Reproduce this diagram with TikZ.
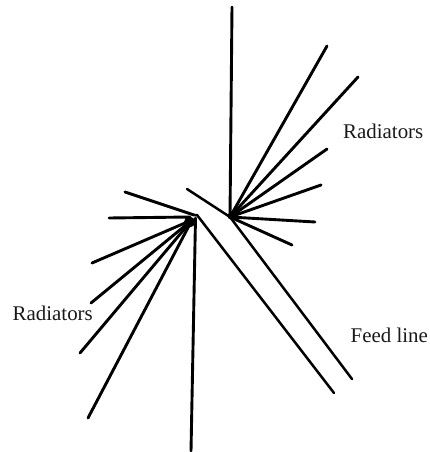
\documentclass[tikz,border=0pt]{standalone}
\usepackage{fontspec}
\setmainfont{Liberation Serif}
\tikzset{
  rad/.style={line width=2.9pt,line cap=round},
  feed/.style={line width=2.5pt,line cap=round,line join=miter},
  lab/.style={inner sep=0pt,anchor=base west,font=\fontsize{20.9}{24}\selectfont,text=black!90}
}
\begin{document}
\begin{tikzpicture}[x=1pt,y=-1pt]
\useasboundingbox (0,0) rectangle (430,452);
\coordinate (hu) at (230,217);
\coordinate (hl) at (192,220);
\coordinate (hv) at (195.5,218);
\coordinate (hp) at (194,215);
\foreach \n/\x/\y in {a/232/7,b/327/46,c/358/77,d/327/149,e/321/185,f/315/222,g/292/245}
  {\coordinate (\n) at (\x,\y); \draw[rad] (hu) -- (\n);}
\foreach \n/\x/\y in {r/92/263,s/91/303,t/80/353,u/88/418}
  {\coordinate (\n) at (\x,\y); \draw[rad] (hl) -- (\n);}
\coordinate (p) at (125,192);
\coordinate (q) at (109,218);
\coordinate (v) at (191,451);
\draw[rad] (hp) -- (p);
\draw[rad] (hp) ++(-4,2) -- (q);
\draw[rad] (hv) -- (v);
\coordinate (f1) at (187,189);
\coordinate (f2) at (352,379);
\coordinate (f3) at (197,215);
\coordinate (f4) at (334,393);
\draw[feed] (f1) -- (hu) -- (f2);
\draw[feed] (hp) -- (f3) -- (f4);
\fill (189.5,222) circle[radius=5.5];
\fill (231,216) circle[radius=3.5];
\node[lab] (r1) at (343,138) {Radiators};
\node[lab] (r2) at (12.5,320) {Radiators};
\node[lab] (fl) at (350.5,342) {Feed line};
\end{tikzpicture}
\end{document}
